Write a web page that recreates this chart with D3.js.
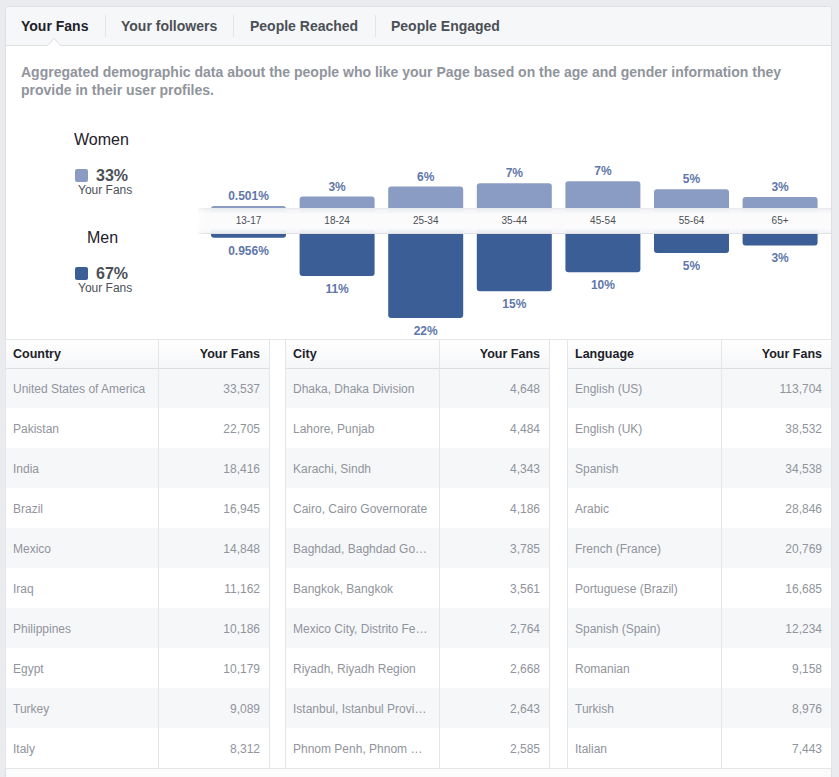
<!DOCTYPE html>
<html>
<head>
<meta charset="utf-8">
<script src="https://cdn.jsdelivr.net/npm/d3@7"></script>
<style>
  body { margin: 0; background: #e9ebee; }
  svg { display: block; font-family: "Liberation Sans", Arial, Helvetica, sans-serif; }
</style>
</head>
<body>
<div id="chart"></div>
<script>
const tabs = ["Your Fans", "Your followers", "People Reached", "People Engaged"];
const ageGroups = ["13-17", "18-24", "25-34", "35-44", "45-54", "55-64", "65+"];
const women = [0.501, 3.0, 5.6, 6.5, 7.0, 4.9, 2.9];
const men = [0.956, 11, 22, 15, 10, 5, 3];
const genderShare = { women: 33, men: 67 };

const countries = ["United States of America", "Pakistan", "India", "Brazil", "Mexico", "Iraq", "Philippines", "Egypt", "Turkey", "Italy"];
const countryFans = [33537, 22705, 18416, 16945, 14848, 11162, 10186, 10179, 9089, 8312];
const cities = ["Dhaka, Dhaka Division", "Lahore, Punjab", "Karachi, Sindh", "Cairo, Cairo Governorate", "Baghdad, Baghdad Go…", "Bangkok, Bangkok", "Mexico City, Distrito Fe…", "Riyadh, Riyadh Region", "Istanbul, Istanbul Provi…", "Phnom Penh, Phnom …"];
const cityFans = [4648, 4484, 4343, 4186, 3785, 3561, 2764, 2668, 2643, 2585];
const languages = ["English (US)", "English (UK)", "Spanish", "Arabic", "French (France)", "Portuguese (Brazil)", "Spanish (Spain)", "Romanian", "Turkish", "Italian"];
const languageFans = [113704, 38532, 34538, 28846, 20769, 16685, 12234, 9158, 8976, 7443];

const W = 839, H = 777;
const panel = { x: 5, y: 6, r: 831 };
const womenColor = "#8a9cc3", menColor = "#3b5e96", labelColor = "#5f77aa";
const border = "#dddfe2";

const svg = d3.select("#chart").append("svg")
  .attr("width", W).attr("height", H);

const defs = svg.append("defs");
const strip = defs.append("linearGradient").attr("id", "strip")
  .attr("x1", 0).attr("y1", 0).attr("x2", 0).attr("y2", 1);
strip.append("stop").attr("offset", "0%").attr("stop-color", "#eeeff1");
strip.append("stop").attr("offset", "25%").attr("stop-color", "#fbfbfc");
strip.append("stop").attr("offset", "75%").attr("stop-color", "#fbfbfc");
strip.append("stop").attr("offset", "100%").attr("stop-color", "#f1f2f4");
const stripFade = defs.append("linearGradient").attr("id", "stripFade");
stripFade.append("stop").attr("offset", "0%").attr("stop-color", "#fff").attr("stop-opacity", 1);
stripFade.append("stop").attr("offset", "100%").attr("stop-color", "#fff").attr("stop-opacity", 0);
const headGrad = defs.append("linearGradient").attr("id", "head")
  .attr("x1", 0).attr("y1", 0).attr("x2", 0).attr("y2", 1);
headGrad.append("stop").attr("offset", "0%").attr("stop-color", "#ffffff");
headGrad.append("stop").attr("offset", "100%").attr("stop-color", "#f5f6f8");

// panel
svg.append("rect")
  .attr("x", panel.x + 0.5).attr("y", panel.y + 0.5)
  .attr("width", panel.r - panel.x).attr("height", H + 20)
  .attr("rx", 3)
  .attr("fill", "#fff").attr("stroke", border);

// tab bar
svg.append("path")
  .attr("d", `M${panel.x + 1},45 V${panel.y + 4} q0,-3 3,-3 H${panel.r - 3} q3,0 3,3 V45 Z`)
  .attr("fill", "#f6f7f9");
svg.append("line")
  .attr("x1", panel.x).attr("x2", panel.r + 1).attr("y1", 45.5).attr("y2", 45.5)
  .attr("stroke", border);
// active tab notch
svg.append("path")
  .attr("d", "M47,46 L54,38.5 L61,46")
  .attr("fill", "#fff").attr("stroke", border);

const tabX = [21, 121, 250, 391];
const tabG = svg.append("g");
tabG.selectAll("text").data(tabs).join("text")
  .attr("x", (d, i) => tabX[i]).attr("y", 31)
  .attr("font-size", 14).attr("font-weight", "bold")
  .attr("fill", (d, i) => i === 0 ? "#1d2129" : "#4b4f56")
  .text(d => d);
tabG.selectAll("line").data([105, 233, 375]).join("line")
  .attr("x1", d => d + 0.5).attr("x2", d => d + 0.5)
  .attr("y1", 15).attr("y2", 37)
  .attr("stroke", "#e3e5e8");

// description
svg.append("text")
  .attr("font-size", 14).attr("font-weight", "bold").attr("fill", "#90949c")
  .selectAll("tspan")
  .data(["Aggregated demographic data about the people who like your Page based on the age and gender information they",
    "provide in their user profiles."])
  .join("tspan")
  .attr("x", 21).attr("y", (d, i) => 77 + i * 18)
  .text(d => d);

// gender legend
const legend = [
  { name: "Women", pct: genderShare.women, color: womenColor, tx: 74, ty: 145, sy: 169 },
  { name: "Men", pct: genderShare.men, color: menColor, tx: 87, ty: 243, sy: 267 }
];
const lg = svg.append("g").selectAll("g").data(legend).join("g");
lg.append("text").attr("x", d => d.tx).attr("y", d => d.ty)
  .attr("font-size", 16).attr("fill", "#1d2129").text(d => d.name);
lg.append("rect").attr("x", 75).attr("y", d => d.sy)
  .attr("width", 13).attr("height", 13).attr("rx", 2).attr("fill", d => d.color);
lg.append("text").attr("x", 96).attr("y", d => d.sy + 12)
  .attr("font-size", 16).attr("font-weight", "bold").attr("fill", "#4b4f56")
  .text(d => d.pct + "%");
lg.append("text").attr("x", 78).attr("y", d => d.sy + 25)
  .attr("font-size", 12).attr("fill", "#4b4f56").text("Your Fans");

// age bars
const stripTop = 208, stripBottom = 234;
const x = d3.scaleBand().domain(ageGroups).range([204.2, 824.4])
  .paddingInner(0.1535).paddingOuter(0.0768);
const h = d3.scaleLinear().domain([0, d3.max(men)]).range([0, 84]);
const fmt = v => v < 1 ? v + "%" : Math.round(v) + "%";

function roundedBar(x0, w, base, len, up) {
  const r = Math.min(3, len);
  if (up) {
    const t = base - len;
    return `M${x0},${base} V${t + r} q0,-${r} ${r},-${r} H${x0 + w - r} q${r},0 ${r},${r} V${base} Z`;
  }
  const b = base + len;
  return `M${x0},${base} V${b - r} q0,${r} ${r},${r} H${x0 + w - r} q${r},0 ${r},-${r} V${base} Z`;
}

const bars = svg.append("g");
bars.selectAll("path.women").data(ageGroups).join("path").attr("class", "women")
  .attr("d", (d, i) => roundedBar(x(d), x.bandwidth(), stripTop + 4, h(women[i]) + 4, true))
  .attr("fill", womenColor);
bars.selectAll("path.men").data(ageGroups).join("path").attr("class", "men")
  .attr("d", (d, i) => roundedBar(x(d), x.bandwidth(), stripBottom - 4, h(men[i]) + 4, false))
  .attr("fill", menColor);
bars.selectAll("text.women").data(ageGroups).join("text").attr("class", "women")
  .attr("x", d => x(d) + x.bandwidth() / 2)
  .attr("y", (d, i) => stripTop - h(women[i]) - 6)
  .attr("text-anchor", "middle").attr("font-size", 12).attr("font-weight", "bold")
  .attr("fill", labelColor).text((d, i) => fmt(women[i]));
bars.selectAll("text.men").data(ageGroups).join("text").attr("class", "men")
  .attr("x", d => x(d) + x.bandwidth() / 2)
  .attr("y", (d, i) => stripBottom + h(men[i]) + 17)
  .attr("text-anchor", "middle").attr("font-size", 12).attr("font-weight", "bold")
  .attr("fill", labelColor).text((d, i) => fmt(men[i]));

// age strip
svg.append("rect").attr("x", 198).attr("y", stripTop)
  .attr("width", panel.r - 198).attr("height", stripBottom - stripTop)
  .attr("fill", "url(#strip)").attr("opacity", 0.95);
svg.append("line").attr("x1", 198).attr("x2", panel.r).attr("y1", stripTop + 0.5).attr("y2", stripTop + 0.5)
  .attr("stroke", "#e9eaed");
svg.append("line").attr("x1", 198).attr("x2", panel.r).attr("y1", stripBottom - 0.5).attr("y2", stripBottom - 0.5)
  .attr("stroke", "#dfe1e4");
svg.append("rect").attr("x", 198).attr("y", stripTop).attr("width", 8)
  .attr("height", stripBottom - stripTop).attr("fill", "url(#stripFade)").attr("opacity", 0.6);

const ageAxis = svg.append("g")
  .attr("transform", `translate(0,${stripTop + 9})`)
  .call(d3.axisBottom(x).tickSize(0).tickPadding(0));
ageAxis.select(".domain").remove();
ageAxis.selectAll("text")
  .attr("font-family", "Liberation Sans, Arial, sans-serif")
  .attr("font-size", 10).attr("fill", "#4b4f56");

// tables
const tableTop = 339, headBottom = 368, rowH = 40, nRows = 10;
const tables = [
  { x0: 5, x1: 269, split: 158, header: "Country", names: countries, values: countryFans },
  { x0: 285, x1: 549, split: 439, header: "City", names: cities, values: cityFans },
  { x0: 567, x1: 831, split: 721, header: "Language", names: languages, values: languageFans }
];
const rowY = d3.scaleBand().domain(d3.range(nRows))
  .range([headBottom, headBottom + rowH * nRows]);
const num = d3.format(",");

svg.append("line").attr("x1", panel.x).attr("x2", panel.r + 1)
  .attr("y1", tableTop + 0.5).attr("y2", tableTop + 0.5).attr("stroke", "#e5e6e9");

const tg = svg.append("g").selectAll("g").data(tables).join("g");
tg.append("rect").attr("x", d => d.x0).attr("y", tableTop + 1)
  .attr("width", d => d.x1 - d.x0).attr("height", headBottom - tableTop - 1)
  .attr("fill", "url(#head)");
tg.each(function (t) {
  const g = d3.select(this);
  g.selectAll("rect.row").data(t.names).join("rect").attr("class", "row")
    .attr("x", t.x0 + 1).attr("y", (d, i) => rowY(i))
    .attr("width", t.x1 - t.x0 - 1).attr("height", rowY.bandwidth())
    .attr("fill", (d, i) => i % 2 === 0 ? "#f6f7f9" : "#fff");
  g.selectAll("text.name").data(t.names).join("text").attr("class", "name")
    .attr("x", t.x0 + 8).attr("y", (d, i) => rowY(i) + rowY.bandwidth() / 2 + 4.5)
    .attr("font-size", 12).attr("fill", "#90949c").text(d => d);
  g.selectAll("text.val").data(t.values).join("text").attr("class", "val")
    .attr("x", t.x1 - 9).attr("y", (d, i) => rowY(i) + rowY.bandwidth() / 2 + 4.5)
    .attr("text-anchor", "end")
    .attr("font-size", 12).attr("fill", "#90949c").text(d => num(d));
  g.append("text").attr("x", t.x0 + 8).attr("y", 358)
    .attr("font-size", 12.5).attr("font-weight", "bold").attr("fill", "#1d2129").text(t.header);
  g.append("text").attr("x", t.x1 - 9).attr("y", 358).attr("text-anchor", "end")
    .attr("font-size", 12.5).attr("font-weight", "bold").attr("fill", "#1d2129").text("Your Fans");
  const end = headBottom + rowH * nRows;
  g.append("line").attr("x1", t.x0).attr("x2", t.x1).attr("y1", headBottom + 0.5).attr("y2", headBottom + 0.5)
    .attr("stroke", "#dcdee1");
  g.selectAll("line.v").data([t.x0, t.split, t.x1]).join("line").attr("class", "v")
    .attr("x1", d => d + 0.5).attr("x2", d => d + 0.5)
    .attr("y1", tableTop).attr("y2", end)
    .attr("stroke", "#e5e6e9");
});
svg.append("line").attr("x1", panel.x).attr("x2", panel.r + 1)
  .attr("y1", headBottom + rowH * nRows + 0.5).attr("y2", headBottom + rowH * nRows + 0.5)
  .attr("stroke", "#e5e6e9");
svg.append("rect").attr("x", panel.x + 1).attr("y", headBottom + rowH * nRows + 1)
  .attr("width", panel.r - panel.x - 1).attr("height", 20).attr("fill", "#fbfbfc");
</script>
</body>
</html>
